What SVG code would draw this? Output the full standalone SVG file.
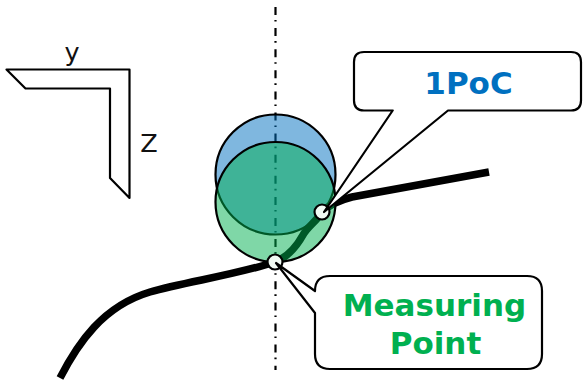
<svg xmlns="http://www.w3.org/2000/svg" width="588" height="385" viewBox="0 0 588 385">
<style>
.o{stroke:#000;stroke-width:2.200;stroke-linejoin:round}
.t{font-family:"DejaVu Sans",Verdana,sans-serif}
.b{font-weight:700;font-size:31px;text-anchor:middle}
.a{font-size:25.500px;fill:#111;text-anchor:middle}
.p{fill:#f1faf4;stroke:#000;stroke-width:2.200}
</style>
<rect width="588" height="385" fill="#fff"/>
<g id="axes">
<path class="o" fill="#fff" d="M6.500 69.500H129.500V198L110 178V88.500H25.500Z"/>
<text class="t a" x="72" y="60.500">y</text>
<text class="t a" x="149" y="152">Z</text>
</g>
<g id="connectors">
<path d="M275.500 7V370" fill="none" stroke="#000" stroke-width="2.200" stroke-dasharray="8 5 1.600 6.500"/>
</g>
<g id="blue-circle"><circle class="o" cx="275.500" cy="174.500" r="60" fill="#0070c0" fill-opacity=".5"/></g>
<g id="curve">
<path d="M60 378C78 343 103 306 150 292C185 282 235 275 275 262C290 256 298 244 303 235C308 226 316 222 322 212C330 204 340 200 352 197L489 172" fill="none" stroke="#000" stroke-width="7.500"/>
</g>
<g id="green-circle"><circle class="o" cx="275.500" cy="202" r="60" fill="#00b050" fill-opacity=".5"/></g>
<g id="point-1poc"><circle class="p" cx="322" cy="212" r="7.500"/></g>
<g id="point-measuring"><circle class="p" cx="275" cy="262" r="7.500"/></g>
<g id="callout-1poc">
<path class="o" fill="#fff" d="M364 52H571Q581 52 581 62V100.500Q581 110.500 571 110.500H448L324 212L392.700 110.500H364Q354 110.500 354 100.500V62Q354 52 364 52Z"/>
<text class="t b" x="468.500" y="94" fill="#0070c0">1PoC</text>
</g>
<g id="callout-measuring">
<path class="o" fill="#fff" d="M330 276H527Q542 276 542 291V354Q542 369 527 369H330Q315 369 315 354V313L276 263L315 291Q315 276 330 276Z"/>
<text class="t b" x="434.500" y="316" fill="#00b050">Measuring</text>
<text class="t b" x="435.500" y="354" fill="#00b050">Point</text>
</g>
</svg>
